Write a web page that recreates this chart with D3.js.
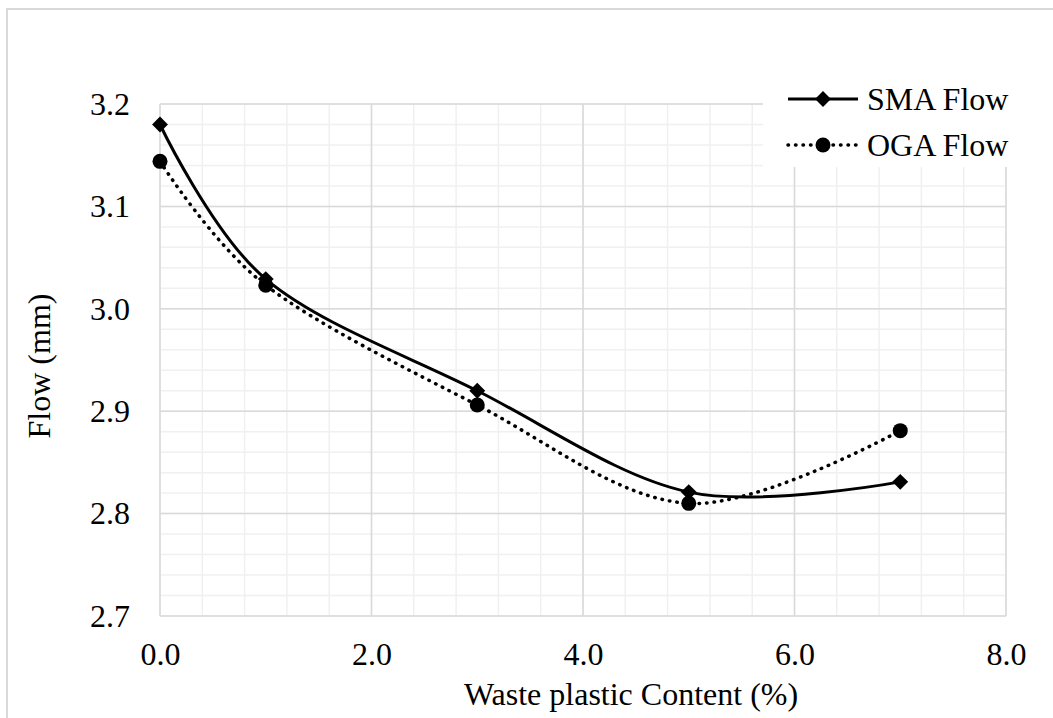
<!DOCTYPE html>
<html>
<head>
<meta charset="utf-8">
<script src="https://cdn.jsdelivr.net/npm/d3@7"></script>
<style>
  body { margin: 0; background: #fff; }
  text { font-family: "Liberation Serif", "Times New Roman", serif; fill: #000; }
</style>
</head>
<body>
<svg id="chart" width="1053" height="718"></svg>
<script>
  const plastic = [0, 1, 3, 5, 7];
  const smaFlow = [3.18, 3.029, 2.92, 2.821, 2.831];
  const ogaFlow = [3.144, 3.023, 2.906, 2.81, 2.881];
  const xTicks = [0, 2, 4, 6, 8];
  const yTicks = [2.7, 2.8, 2.9, 3.0, 3.1, 3.2];

  const svg = d3.select("#chart");
  const fontSize = 32;

  // outer chart frame
  svg.append("rect")
    .attr("x", 7).attr("y", 9)
    .attr("width", 1100).attr("height", 800)
    .attr("fill", "#fff")
    .attr("stroke", "#d9d9d9")
    .attr("stroke-width", 2);

  const x = d3.scaleLinear().domain([0, 8]).range([160, 1006]);
  const y = d3.scaleLinear().domain([2.7, 3.2]).range([616, 104]);

  const grid = svg.append("g");
  // minor grid
  grid.selectAll(".vminor")
    .data(d3.range(0, 8.001, 0.4))
    .join("line")
    .attr("x1", d => x(d)).attr("x2", d => x(d))
    .attr("y1", y(2.7)).attr("y2", y(3.2))
    .attr("stroke", "#f0f0f0").attr("stroke-width", 1.5);
  grid.selectAll(".hminor")
    .data(d3.range(2.7, 3.2001, 0.02))
    .join("line")
    .attr("x1", x(0)).attr("x2", x(8))
    .attr("y1", d => y(d)).attr("y2", d => y(d))
    .attr("stroke", "#f0f0f0").attr("stroke-width", 1.5);
  // major grid
  grid.selectAll(".vmajor")
    .data(xTicks)
    .join("line")
    .attr("x1", d => x(d)).attr("x2", d => x(d))
    .attr("y1", y(2.7)).attr("y2", y(3.2))
    .attr("stroke", "#d9d9d9").attr("stroke-width", 1.5);
  grid.selectAll(".hmajor")
    .data(yTicks)
    .join("line")
    .attr("x1", x(0)).attr("x2", x(8))
    .attr("y1", d => y(d)).attr("y2", d => y(d))
    .attr("stroke", "#d9d9d9").attr("stroke-width", 1.5);

  // tick labels
  const xAxis = d3.axisBottom(x).tickValues(xTicks).tickFormat(d3.format(".1f")).tickSize(0).tickPadding(30);
  const gx = svg.append("g").attr("transform", `translate(0,${y(2.7)})`).call(xAxis);
  const yAxis = d3.axisLeft(y).tickValues(yTicks).tickFormat(d3.format(".1f")).tickSize(0).tickPadding(30);
  const gy = svg.append("g").attr("transform", `translate(${x(0)},0)`).call(yAxis);
  [gx, gy].forEach(g => {
    g.select(".domain").remove();
    g.selectAll("text")
      .attr("font-size", fontSize)
      .attr("fill", "#000");
  });
  gx.selectAll("text").attr("dy", "0.6em");

  svg.append("text")
    .attr("x", 631).attr("y", 705)
    .attr("text-anchor", "middle")
    .attr("font-size", fontSize)
    .text("Waste plastic Content (%)");
  svg.append("text")
    .attr("transform", `translate(50,366) rotate(-90)`)
    .attr("text-anchor", "middle")
    .attr("font-size", fontSize)
    .text("Flow (mm)");

  const series = [
    { name: "SMA Flow", values: smaFlow, dash: null, width: 3, marker: "diamond" },
    { name: "OGA Flow", values: ogaFlow, dash: "0.5,7", width: 3.5, marker: "circle" }
  ];

  const line = d3.line()
    .x((d, i) => x(plastic[i]))
    .y(d => y(d))
    .curve(d3.curveCatmullRom.alpha(0));

  function drawMarker(g, type) {
    if (type === "diamond") {
      g.append("path").attr("d", d3.symbol(d3.symbolDiamond2, 160)()).attr("fill", "#000");
    } else {
      g.append("circle").attr("r", 7.5).attr("fill", "#000");
    }
  }

  series.forEach(s => {
    svg.append("path")
      .datum(s.values)
      .attr("d", line)
      .attr("fill", "none")
      .attr("stroke", "#000")
      .attr("stroke-width", s.width)
      .attr("stroke-dasharray", s.dash)
      .attr("stroke-linecap", s.dash ? "round" : "butt");
    s.values.forEach((v, i) => {
      const g = svg.append("g").attr("transform", `translate(${x(plastic[i])},${y(v)})`);
      drawMarker(g, s.marker);
    });
  });

  // legend
  const legend = svg.append("g");
  legend.append("rect")
    .attr("x", 763).attr("y", 72)
    .attr("width", 260).attr("height", 95)
    .attr("fill", "#fff");
  series.forEach((s, i) => {
    const ly = 99 + i * 46;
    legend.append("line")
      .attr("x1", 788).attr("x2", 858)
      .attr("y1", ly).attr("y2", ly)
      .attr("stroke", "#000")
      .attr("stroke-width", s.width)
      .attr("stroke-dasharray", s.dash)
      .attr("stroke-linecap", s.dash ? "round" : "butt");
    const g = legend.append("g").attr("transform", `translate(823,${ly})`);
    drawMarker(g, s.marker);
    legend.append("text")
      .attr("x", 867).attr("y", ly)
      .attr("dy", "0.35em")
      .attr("font-size", fontSize)
      .text(s.name);
  });
</script>
</body>
</html>
